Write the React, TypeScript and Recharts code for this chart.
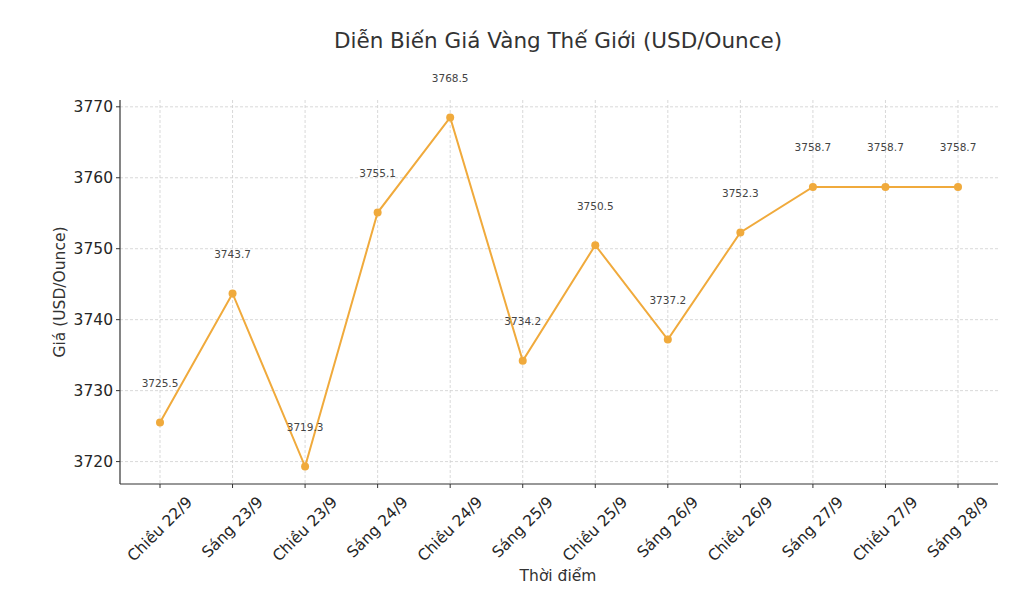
import React from 'react';
import { LineChart, Line, XAxis, YAxis, CartesianGrid, LabelList } from 'recharts';

const categories = [
  'Chiều 22/9', 'Sáng 23/9', 'Chiều 23/9', 'Sáng 24/9', 'Chiều 24/9', 'Sáng 25/9',
  'Chiều 25/9', 'Sáng 26/9', 'Chiều 26/9', 'Sáng 27/9', 'Chiều 27/9', 'Sáng 28/9',
];
const prices = [3725.5, 3743.7, 3719.3, 3755.1, 3768.5, 3734.2, 3750.5, 3737.2, 3752.3, 3758.7, 3758.7, 3758.7];
const yTicks = [3720, 3730, 3740, 3750, 3760, 3770];
const yDomain = [3716.84, 3770.96];

const data = categories.map((c, i) => ({ name: c, price: prices[i] }));

const FONT = 'DejaVu Sans';
const TICK_FS = 15.5;
const LINE_COLOR = '#F0AA3C';

let ctx: CanvasRenderingContext2D | null = null;
function measure(text: string, fs: number) {
  if (!ctx) {
    const c = document.createElement('canvas');
    ctx = c.getContext('2d');
  }
  if (!ctx) return text.length * fs * 0.55;
  ctx.font = `${fs}px "${FONT}"`;
  return ctx.measureText(text).width;
}

const XTick = (props: any) => {
  const { x, y, payload } = props;
  const label = String(payload.value);
  const w = measure(label, TICK_FS);
  const H = TICK_FS * 1.164;
  const top = y + 3;
  const cy = top + (w + H) * 0.3536;
  return (
    <text
      x={x}
      y={cy}
      textAnchor="middle"
      dominantBaseline="central"
      transform={`rotate(-45, ${x}, ${cy})`}
      fontFamily={FONT}
      fontSize={TICK_FS}
      fill="#262626"
    >
      {label}
    </text>
  );
};

const ValueLabel = (props: any) => {
  const { x, y, value } = props;
  return (
    <text x={x} y={y - 35.5} textAnchor="middle" fontFamily={FONT} fontSize={10.5} fill="#444">
      {Number(value).toFixed(1)}
    </text>
  );
};

export default function App() {
  return (
    <div style={{ position: 'absolute', left: 0, top: 0, width: 1034, height: 594, background: '#fff' }}>
      <LineChart
        width={1034}
        height={594}
        data={data}
        margin={{ top: 100, right: 36, bottom: 30, left: 60 }}
      >
        <text x={558} y={48} textAnchor="middle" fontFamily={FONT} fontSize={21.5} fill="#333">
          Diễn Biến Giá Vàng Thế Giới (USD/Ounce)
        </text>
        <text x={558} y={581} textAnchor="middle" fontFamily={FONT} fontSize={TICK_FS} fill="#333">
          Thời điểm
        </text>
        <text
          x={65}
          y={292}
          textAnchor="middle"
          transform="rotate(-90, 65, 292)"
          fontFamily={FONT}
          fontSize={TICK_FS}
          fill="#333"
        >
          Giá (USD/Ounce)
        </text>
        <CartesianGrid
          stroke="#cfcfcf"
          strokeDasharray="3 2"
          strokeWidth={0.8}
          horizontalValues={yTicks}
          verticalValues={categories}
        />
        <XAxis
          dataKey="name"
          type="category"
          interval={0}
          padding={{ left: 40, right: 40 }}
          height={80}
          tickSize={4}
          tick={<XTick />}
          axisLine={{ stroke: '#333', strokeWidth: 1.2 }}
          tickLine={{ stroke: '#333' }}
        />
        <YAxis
          type="number"
          domain={yDomain}
          ticks={yTicks}
          allowDataOverflow
          width={60}
          tickSize={4}
          tickMargin={3}
          tick={{ fontFamily: FONT, fontSize: TICK_FS, fill: '#262626' }}
          axisLine={{ stroke: '#333', strokeWidth: 1.2 }}
          tickLine={{ stroke: '#333' }}
        />
        <Line
          type="linear"
          dataKey="price"
          stroke={LINE_COLOR}
          strokeWidth={2}
          dot={{ r: 4, fill: LINE_COLOR, stroke: 'none' }}
          activeDot={false}
          isAnimationActive={false}
        >
          <LabelList dataKey="price" content={<ValueLabel />} />
        </Line>
      </LineChart>
    </div>
  );
}
